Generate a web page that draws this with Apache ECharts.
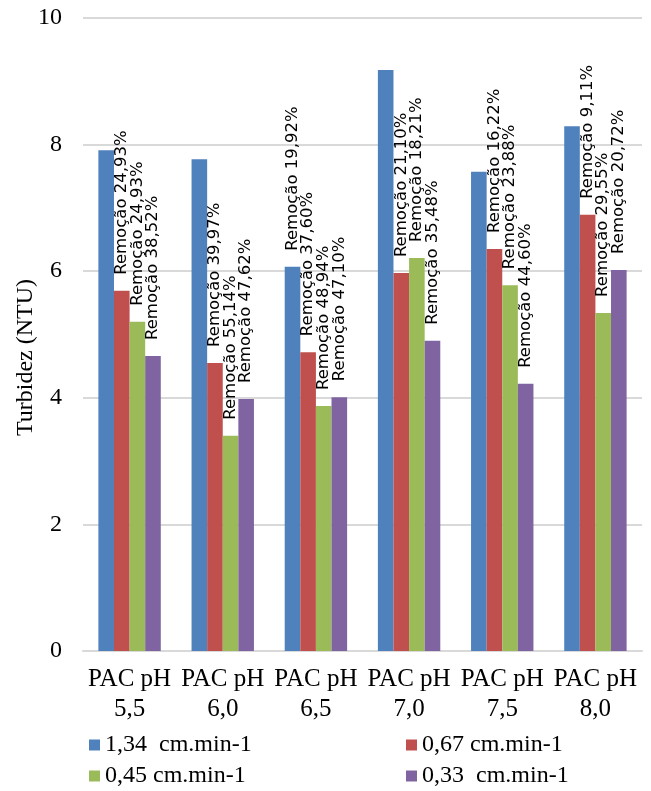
<!DOCTYPE html>
<html><head><meta charset="utf-8">
<script src="https://cdn.jsdelivr.net/npm/echarts@6/dist/echarts.min.js"></script>
<style>html,body{margin:0;padding:0;background:#fff}#c{width:651px;height:791px}</style>
</head><body><div id="c"></div>
<script>
const categories = ['PAC pH\n5,5','PAC pH\n6,0','PAC pH\n6,5','PAC pH\n7,0','PAC pH\n7,5','PAC pH\n8,0'];
const seriesNames = ['1,34  cm.min-1','0,67 cm.min-1','0,45 cm.min-1','0,33  cm.min-1'];
const v134 = [7.91, 7.77, 6.07, 9.18, 7.57, 8.29];
const v067 = [5.69, 4.55, 4.72, 5.97, 6.35, 6.89];
const v045 = [5.20, 3.40, 3.87, 6.21, 5.78, 5.34];
const v033 = [4.66, 3.98, 4.01, 4.90, 4.22, 6.02];
const lab134 = [null, null, 'Remoção 19,92%', null, null, null];
const lab067 = ['Remoção 24,93%','Remoção 39,97%','Remoção 37,60%','Remoção 21,10%','Remoção 16,22%','Remoção 9,11%'];
const lab045 = ['Remoção 24,93%','Remoção 55,14%','Remoção 48,94%','Remoção 18,21%','Remoção 23,88%','Remoção 29,55%'];
const lab033 = ['Remoção 38,52%','Remoção 47,62%','Remoção 47,10%','Remoção 35,48%','Remoção 44,60%','Remoção 20,72%'];
const yMin = 0, yMax = 10, yStep = 2;
const colors = ['#4F81BD','#C0504D','#9BBB59','#8064A2'];

const serif = '"Liberation Serif", "Times New Roman", serif';
const values = [v134, v067, v045, v033];
const labels = [lab134, lab067, lab045, lab033];
// legend placement: [left, top] per series (2 x 2 layout)
const legendPos = [[89, 733], [406, 733], [89, 764], [406, 764]];

const chart = echarts.init(document.getElementById('c'), null, {renderer: 'canvas'});
const series = values.map((vals, i) => ({
  name: seriesNames[i],
  type: 'bar',
  data: vals,
  barWidth: 15.6,
  barGap: '0%',
  itemStyle: {color: colors[i]},
  label: {
    show: true,
    position: 'top',
    distance: 16,
    rotate: 90,
    align: 'left',
    verticalAlign: 'middle',
    fontFamily: '"DejaVu Sans", sans-serif',
    fontSize: 16.5,
    color: '#000',
    formatter: p => labels[i][p.dataIndex] || ''
  }
}));

chart.setOption({
  animation: false,
  backgroundColor: '#fff',
  color: colors,
  grid: {left: 83, right: 9, top: 18, bottom: 140, containLabel: false, outerBoundsMode: 'none'},
  legend: seriesNames.map((n, i) => ({
    data: [n], left: legendPos[i][0], top: legendPos[i][1],
    itemWidth: 11, itemHeight: 11, icon: 'rect', padding: 0,
    textStyle: {fontFamily: serif, fontSize: 24, color: '#000', lineHeight: 24}
  })),
  xAxis: {
    type: 'category',
    data: categories,
    axisTick: {show: false},
    axisLine: {lineStyle: {color: '#D9D9D9', width: 2}},
    axisLabel: {fontFamily: serif, fontSize: 25, color: '#000', lineHeight: 30, margin: 13, interval: 0}
  },
  yAxis: {
    type: 'value',
    min: yMin, max: yMax, interval: yStep,
    axisLine: {show: false},
    axisTick: {show: false},
    splitLine: {lineStyle: {color: '#D9D9D9', width: 2}},
    axisLabel: {fontFamily: serif, fontSize: 24, color: '#000', margin: 21},
    name: 'Turbidez (NTU)',
    nameLocation: 'middle',
    nameGap: 45,
    nameMoveOverlap: false,
    nameTextStyle: {fontFamily: serif, fontSize: 24, color: '#000', padding: [0, 46, 0, 0]}
  },
  series: series
});
</script>
</body></html>
